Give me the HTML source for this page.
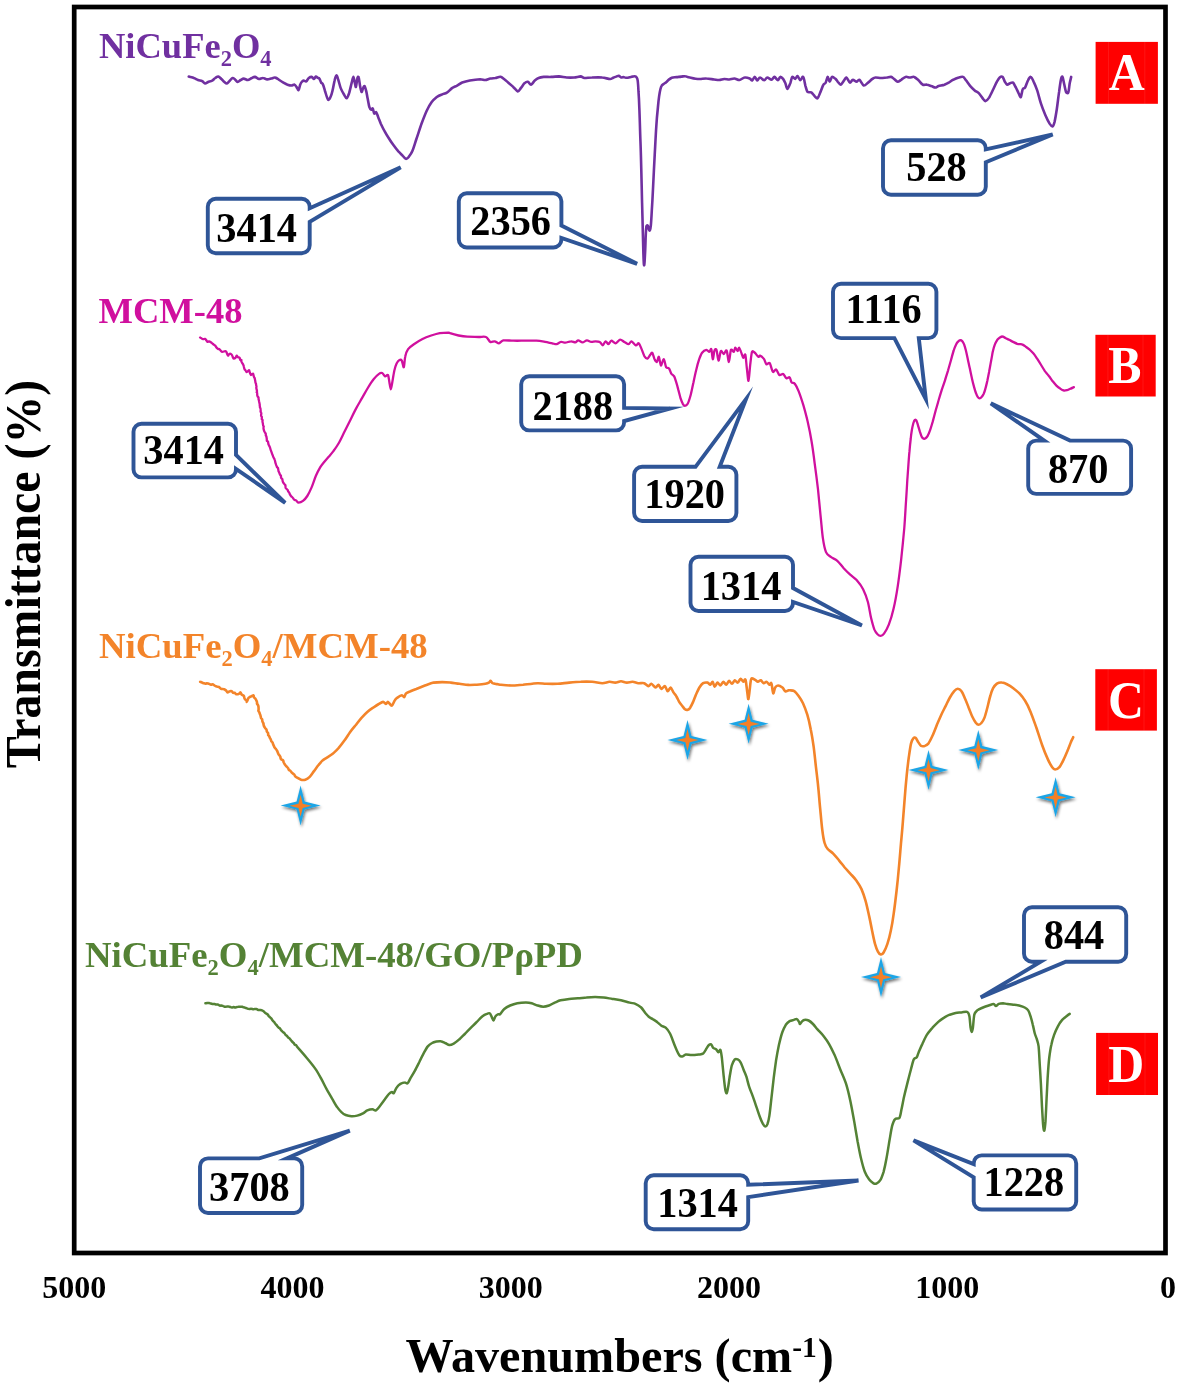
<!DOCTYPE html>
<html lang="en"><head><meta charset="utf-8"><title>FTIR spectra</title>
<style>html,body{margin:0;padding:0;background:#fff}body{width:1180px;height:1388px;overflow:hidden}svg{display:block}text{font-family:"Liberation Serif","DejaVu Serif",serif;font-weight:bold}</style>
</head><body>
<svg width="1180" height="1388" viewBox="0 0 1180 1388">
<defs><filter id="sh" x="-40%" y="-40%" width="180%" height="180%"><feGaussianBlur in="SourceAlpha" stdDeviation="1.7"/><feOffset dx="0.9" dy="1.5" result="b"/><feComponentTransfer><feFuncA type="linear" slope="0.55"/></feComponentTransfer><feMerge><feMergeNode/><feMergeNode in="SourceGraphic"/></feMerge></filter></defs>
<rect width="1180" height="1388" fill="#fff"/>
<rect x="74.2" y="7" width="1091.3" height="1246" fill="none" stroke="#000" stroke-width="4.7"/>
<g fill="none" stroke-linejoin="round" stroke-linecap="round">
<path stroke="#7030A0" stroke-width="2.6" d="M188.8,76.5C189.6,76.8 192.5,77.4 193.9,78.0C195.3,78.5 196.7,79.5 198.0,80.0C199.2,80.5 201.0,80.5 202.0,81.0C203.1,81.5 204.2,83.3 205.1,83.5C206.0,83.6 207.1,82.5 208.1,82.0C209.2,81.6 211.1,81.2 212.2,80.6C213.3,80.0 214.3,78.6 215.3,78.0C216.2,77.4 217.4,76.4 218.3,76.5C219.2,76.7 220.4,78.2 221.4,79.0C222.3,79.8 223.6,81.4 224.4,82.0C225.2,82.7 226.1,83.6 226.8,83.5C227.6,83.3 228.6,81.8 229.5,81.0C230.3,80.2 231.7,78.2 232.5,78.0C233.4,77.7 234.2,78.8 235.0,79.4C235.7,80.0 236.8,81.9 237.6,82.0C238.5,82.1 239.8,80.5 240.7,80.0C241.6,79.5 242.7,78.6 243.7,78.6C244.8,78.6 246.6,80.1 247.8,80.0C249.0,79.9 250.8,78.4 251.9,78.0C252.9,77.5 253.8,76.8 254.9,76.9C256.0,77.1 257.8,78.8 259.0,79.0C260.2,79.1 261.8,77.9 263.1,78.0C264.3,78.0 265.9,79.3 267.1,79.4C268.3,79.5 270.0,78.9 271.2,78.6C272.4,78.3 274.0,77.3 275.3,77.6C276.5,77.8 278.1,79.2 279.3,80.0C280.5,80.8 282.2,81.9 283.4,82.6C284.6,83.3 286.2,84.3 287.5,84.7C288.7,85.1 290.5,85.5 291.5,85.5C292.6,85.5 293.8,84.4 294.6,84.7C295.3,84.9 296.0,86.3 296.6,87.1C297.2,87.9 298.1,90.5 298.6,90.2C299.2,89.9 299.6,86.3 300.1,85.1C300.5,83.9 301.1,82.7 301.7,82.0C302.2,81.4 303.1,80.7 303.7,80.6C304.4,80.5 305.4,81.8 306.2,81.4C306.9,81.0 308.0,78.6 308.8,78.0C309.7,77.3 311.1,76.8 311.9,76.9C312.6,77.1 313.3,79.0 313.9,79.0C314.5,78.9 315.3,76.7 315.9,76.5C316.5,76.4 317.5,77.7 318.0,78.0C318.5,78.3 318.9,77.8 319.3,78.5C319.8,79.2 320.6,81.7 321.1,82.5C321.6,83.4 322.3,83.1 322.9,84.3C323.5,85.5 324.2,88.4 324.9,90.7C325.7,93.0 327.1,98.6 328.0,99.6C328.8,100.5 329.8,98.4 330.5,97.0C331.2,95.7 331.9,93.2 332.5,90.7C333.2,88.2 334.0,82.8 334.6,80.5C335.1,78.2 335.8,75.6 336.4,75.4C336.9,75.2 337.5,77.3 338.1,79.2C338.8,81.1 339.8,85.8 340.7,88.1C341.6,90.4 343.1,93.0 344.0,94.5C344.9,96.0 345.8,98.5 346.5,98.3C347.3,98.1 348.3,95.5 349.1,93.2C349.8,90.9 351.0,85.5 351.6,83.1C352.3,80.6 352.9,76.7 353.4,76.7C353.9,76.7 354.5,81.5 354.9,83.1C355.3,84.6 355.6,87.6 355.9,86.9C356.3,86.1 357.0,79.4 357.5,78.0C357.9,76.6 358.3,76.3 358.7,77.5C359.1,78.6 359.6,83.4 360.0,85.6C360.4,87.8 361.1,91.6 361.5,91.9C362.0,92.3 362.6,89.0 363.1,88.1C363.5,87.3 364.1,85.7 364.6,86.1C365.0,86.5 365.6,88.8 366.1,90.7C366.6,92.5 367.1,95.8 367.6,98.3C368.1,100.8 368.9,105.5 369.4,107.2C369.9,108.9 370.7,109.6 371.2,109.7C371.7,109.9 372.3,107.9 372.7,108.5C373.2,109.0 373.7,113.0 374.2,113.6C374.8,114.1 375.7,111.7 376.3,112.3C376.9,112.9 377.6,115.7 378.3,117.4C379.0,119.1 379.9,121.6 380.8,123.7C381.8,125.8 383.5,129.3 384.7,131.4C385.8,133.5 387.1,135.6 388.5,137.7C389.8,139.8 392.0,143.2 393.6,145.3C395.1,147.4 397.3,150.2 398.6,151.7C400.0,153.2 401.4,154.4 402.5,155.5C403.5,156.6 404.8,158.6 405.8,158.8C406.7,159.0 407.8,158.0 408.8,156.8C409.8,155.5 411.5,153.1 412.6,150.4C413.8,147.8 415.1,143.0 416.4,139.0C417.8,135.0 420.0,127.9 421.5,123.7C423.1,119.5 425.1,114.3 426.6,111.0C428.1,107.8 430.2,104.2 431.7,102.1C433.2,100.0 435.3,98.2 436.8,97.0C438.3,95.9 440.3,95.1 441.9,94.5C443.4,93.8 445.4,93.7 446.9,92.7C448.5,91.8 450.5,89.2 452.0,88.1C453.6,87.1 455.6,86.4 457.1,85.6C458.6,84.8 460.3,83.3 462.2,82.5C464.1,81.8 467.1,81.0 469.8,80.5C472.5,80.0 477.9,79.3 480.2,79.2C482.5,79.2 483.7,80.1 485.3,80.0C486.8,79.9 488.8,78.8 490.3,78.5C491.9,78.2 493.9,78.2 495.4,78.0C496.9,77.7 499.2,76.5 500.5,76.7C501.8,76.9 503.2,78.4 504.3,79.2C505.5,80.1 506.8,81.4 508.1,82.5C509.5,83.7 511.8,85.5 513.2,86.9C514.7,88.2 516.7,91.2 517.8,91.4C518.9,91.6 519.8,89.4 520.8,88.1C521.9,86.9 523.6,84.0 524.7,83.1C525.7,82.1 527.0,81.5 528.0,81.8C528.9,82.0 530.0,85.0 531.0,84.8C532.0,84.6 533.7,81.5 534.8,80.5C536.0,79.5 537.3,78.5 538.6,78.0C540.0,77.4 541.8,77.1 543.7,76.9C545.6,76.8 549.1,77.0 551.4,76.9C553.6,76.9 556.7,76.4 559.0,76.4C561.3,76.5 564.3,77.3 566.6,77.5C568.9,77.6 572.1,77.6 574.2,77.5C576.3,77.3 579.1,76.4 580.6,76.4C582.1,76.5 582.7,77.8 584.4,78.0C586.1,78.1 589.4,77.5 592.0,77.5C594.7,77.4 599.5,77.2 602.2,77.5C604.9,77.7 608.4,79.0 610.0,79.0C611.6,79.1 612.2,78.1 613.2,77.7C614.1,77.4 615.5,76.9 616.3,76.6C617.2,76.4 618.0,75.7 618.7,75.8C619.4,76.0 620.4,77.2 621.1,77.4C621.8,77.6 622.8,77.1 623.5,77.1C624.2,77.2 625.0,77.7 625.8,77.7C626.7,77.8 628.1,77.6 629.0,77.4C630.0,77.3 631.3,76.8 632.2,76.6C633.1,76.5 634.4,76.2 635.0,76.3C635.7,76.4 636.2,76.8 636.6,77.4C637.0,78.1 637.4,78.5 637.7,80.6C638.0,82.7 638.3,87.6 638.5,91.7C638.8,95.7 639.1,101.6 639.3,107.5C639.6,113.5 639.9,124.2 640.1,131.3C640.3,138.4 640.7,146.8 640.9,155.1C641.1,163.4 641.5,177.3 641.7,186.8C641.9,196.3 642.2,208.9 642.5,218.5C642.7,228.0 643.1,243.2 643.3,250.1C643.5,257.0 643.7,262.5 643.9,264.4C644.1,266.3 644.4,265.0 644.5,262.8C644.7,260.7 645.0,254.4 645.2,250.1C645.4,245.9 645.6,237.9 645.8,234.3C646.0,230.7 646.2,227.7 646.4,226.4C646.7,225.1 647.3,225.1 647.7,225.6C648.1,226.1 648.6,228.8 649.0,229.5C649.3,230.3 649.6,231.0 649.9,230.3C650.2,229.6 650.6,227.8 650.9,224.8C651.2,221.8 651.5,216.2 651.8,210.5C652.2,204.8 652.7,195.1 653.1,186.8C653.5,178.4 654.2,164.1 654.7,155.1C655.2,146.0 655.8,133.7 656.3,126.5C656.7,119.4 657.4,112.1 657.9,107.5C658.3,103.0 658.7,99.2 659.1,96.4C659.5,93.7 660.0,90.9 660.4,89.3C660.8,87.7 661.1,86.5 661.7,85.7C662.2,84.8 663.2,84.3 663.9,83.8C664.6,83.2 665.5,82.8 666.2,82.2C667.0,81.6 667.8,80.5 668.6,79.8C669.5,79.1 670.6,78.2 671.8,77.7C673.0,77.3 675.1,77.3 676.5,77.1C678.0,76.9 680.0,76.8 681.3,76.6C682.6,76.5 684.3,76.1 685.3,76.2C686.2,76.2 686.8,76.9 687.6,77.1C688.5,77.4 689.6,77.5 690.8,77.7C692.0,78.0 694.2,78.5 695.6,78.7C696.9,78.9 698.4,79.0 700.0,79.0C701.6,79.0 704.3,78.4 706.4,78.5C708.6,78.5 712.2,79.3 714.1,79.5C716.0,79.7 717.6,80.1 719.2,80.0C720.7,79.9 722.7,79.1 724.2,79.0C725.8,78.9 727.8,79.6 729.3,79.5C730.8,79.4 732.9,78.4 734.4,78.5C735.9,78.6 738.0,80.2 739.5,80.0C741.0,79.8 743.1,77.7 744.6,77.5C746.1,77.2 748.5,78.0 749.7,78.5C750.8,78.9 751.4,80.8 752.2,80.5C753.0,80.2 754.0,76.7 754.7,76.7C755.5,76.7 756.5,80.4 757.3,80.5C758.1,80.6 758.9,77.5 760.0,77.5C761.1,77.4 763.2,80.3 764.3,80.3C765.4,80.3 766.1,77.5 767.2,77.5C768.3,77.4 770.4,79.8 771.5,79.8C772.6,79.7 773.5,76.8 774.4,76.9C775.4,77.0 777.0,80.3 777.9,80.3C778.7,80.3 779.4,77.1 780.2,76.9C780.9,76.7 782.3,77.9 783.1,78.9C783.8,79.8 784.7,81.7 785.4,83.2C786.0,84.7 786.6,89.0 787.4,89.0C788.1,89.0 789.5,85.0 790.3,83.2C791.0,81.4 791.5,77.5 792.3,76.9C793.0,76.2 794.4,79.0 795.2,78.9C795.9,78.8 796.7,75.8 797.5,76.0C798.2,76.2 799.5,80.2 800.3,80.3C801.2,80.5 802.4,76.0 803.2,76.9C804.0,77.7 804.9,83.9 805.5,86.1C806.2,88.3 806.7,90.9 807.5,91.9C808.4,92.8 810.2,91.8 811.3,92.4C812.4,93.1 813.8,95.3 814.7,96.2C815.7,97.1 816.8,98.9 817.6,98.2C818.5,97.6 819.6,93.9 820.5,91.9C821.4,89.8 822.6,86.0 823.4,84.7C824.2,83.3 825.0,83.8 825.7,82.6C826.3,81.5 827.1,77.0 827.7,76.9C828.3,76.8 829.1,81.8 829.7,81.8C830.4,81.8 831.2,77.3 832.0,76.9C832.9,76.4 834.6,78.2 835.5,78.9C836.4,79.6 837.0,80.9 837.8,81.8C838.6,82.6 839.7,84.9 840.7,84.7C841.6,84.4 843.3,81.4 844.1,80.3C845.0,79.3 845.6,77.1 846.4,77.5C847.3,77.8 848.9,82.3 849.9,82.6C850.8,83.0 851.8,79.9 852.8,79.8C853.8,79.6 855.5,81.8 856.5,81.8C857.5,81.8 858.3,79.2 859.4,79.8C860.5,80.3 862.4,85.1 863.7,85.5C865.0,86.0 866.8,83.6 868.1,82.6C869.3,81.6 871.3,79.7 872.4,78.9C873.5,78.1 874.0,77.6 875.3,77.5C876.6,77.3 879.3,78.0 881.0,78.0C882.7,78.0 885.3,77.6 886.8,77.5C888.3,77.3 890.0,76.7 891.1,76.9C892.2,77.1 893.0,78.2 894.0,78.9C895.0,79.6 896.6,81.6 897.7,81.8C898.8,81.9 900.0,80.5 901.2,79.8C902.4,79.0 904.2,77.2 905.5,76.9C906.8,76.5 908.5,77.5 909.8,77.5C911.1,77.5 912.9,76.4 914.2,76.9C915.4,77.3 917.2,79.2 918.5,80.3C919.8,81.5 921.5,84.0 922.8,84.7C924.1,85.3 925.8,84.4 927.1,84.7C928.4,84.9 930.2,85.7 931.4,86.1C932.7,86.5 934.1,87.5 935.2,87.5C936.3,87.5 937.3,86.5 938.6,86.1C940.0,85.7 942.9,85.2 944.4,84.7C945.9,84.1 947.4,83.4 948.7,82.6C950.0,81.9 951.5,80.5 953.1,79.8C954.6,79.0 957.3,77.9 958.8,77.5C960.3,77.0 962.1,76.4 963.1,76.9C964.2,77.3 964.9,79.0 966.0,80.3C967.1,81.7 969.0,84.6 970.3,86.1C971.6,87.6 973.4,89.3 974.7,90.4C976.0,91.5 977.7,92.0 979.0,93.3C980.3,94.6 982.3,97.9 983.3,99.1C984.3,100.2 984.7,101.3 985.6,101.1C986.5,100.9 987.9,99.4 989.1,97.6C990.2,95.8 992.2,91.4 993.4,89.0C994.6,86.6 995.9,83.5 996.8,81.8C997.8,80.1 998.9,78.2 999.7,77.5C1000.6,76.7 1001.8,76.2 1002.6,76.9C1003.4,77.5 1004.2,80.6 1004.9,81.8C1005.6,82.9 1006.4,84.4 1007.2,84.7C1008.0,84.9 1009.2,83.5 1010.1,83.2C1011.0,82.9 1012.1,82.0 1013.0,82.6C1013.8,83.3 1015.0,85.9 1015.9,87.5C1016.7,89.1 1018.0,91.9 1018.7,93.3C1019.5,94.7 1020.2,97.7 1020.8,97.1C1021.4,96.4 1022.1,90.4 1022.8,89.0C1023.4,87.6 1024.3,88.8 1025.1,87.5C1025.9,86.2 1027.1,81.9 1028.0,80.3C1028.8,78.7 1030.0,76.7 1030.8,76.9C1031.7,77.1 1032.8,79.7 1033.7,81.8C1034.7,83.8 1036.1,87.2 1037.2,90.4C1038.3,93.7 1039.7,99.7 1040.9,103.4C1042.1,107.1 1044.0,111.9 1045.3,114.9C1046.6,117.9 1048.5,121.8 1049.6,123.6C1050.7,125.3 1051.7,126.7 1052.5,126.4C1053.2,126.2 1053.8,124.7 1054.5,122.1C1055.1,119.5 1056.1,113.7 1056.8,109.2C1057.5,104.6 1058.4,96.4 1059.1,91.9C1059.7,87.3 1060.6,81.1 1061.1,78.9C1061.6,76.7 1062.1,76.2 1062.5,76.9C1063.0,77.5 1063.5,81.0 1064.0,83.2C1064.5,85.5 1065.4,90.5 1066.0,91.9C1066.6,93.2 1067.7,93.7 1068.3,92.4C1068.9,91.1 1069.3,85.6 1069.7,83.2C1070.2,80.9 1071.0,77.8 1071.2,76.9"/>
<path stroke="#D0109E" stroke-width="2.3" d="M200.1,337.5C200.3,337.7 201.0,338.1 201.5,338.3C201.9,338.6 202.6,339.1 203.2,339.2C203.7,339.3 204.5,338.7 205.0,338.9C205.5,339.1 206.1,340.0 206.4,340.4C206.8,340.8 207.0,341.6 207.4,341.8C207.8,341.9 208.5,341.3 209.1,341.4C209.7,341.5 210.7,342.2 211.2,342.5C211.7,342.8 211.8,343.0 212.2,343.3C212.6,343.6 213.5,344.4 213.9,344.7C214.4,345.0 214.8,345.1 215.2,345.6C215.6,346.0 216.1,347.1 216.5,347.6C217.0,348.1 217.7,348.8 218.1,349.0C218.5,349.2 219.0,348.8 219.4,349.1C219.8,349.4 220.4,350.5 220.9,350.9C221.3,351.4 221.6,351.9 222.3,351.9C222.9,352.0 224.6,351.1 225.2,351.1C225.8,351.1 226.0,351.4 226.3,351.8C226.6,352.3 227.1,353.7 227.3,354.3C227.6,354.9 227.8,355.7 228.1,355.7C228.3,355.6 228.9,354.2 229.3,354.0C229.7,353.7 230.5,353.7 230.9,354.0C231.4,354.2 231.9,354.9 232.2,355.5C232.5,356.0 232.8,357.3 233.1,357.7C233.3,358.2 233.5,358.6 233.8,358.6C234.2,358.6 235.0,358.3 235.4,357.9C235.9,357.5 236.3,355.8 236.7,355.7C237.1,355.6 237.6,356.9 238.0,357.2C238.5,357.5 239.2,357.3 239.6,357.7C239.9,358.1 240.0,359.6 240.2,359.9C240.5,360.3 241.2,359.6 241.4,359.9C241.5,360.1 241.2,361.0 241.4,361.5C241.6,362.1 242.1,362.9 242.5,363.5C242.8,364.0 243.3,364.8 243.5,365.3C243.8,365.8 243.8,366.4 243.9,367.0C244.1,367.6 244.2,368.7 244.5,369.2C244.7,369.8 245.3,370.0 245.6,370.5C246.0,370.9 246.3,372.2 246.8,372.1C247.3,372.1 248.7,370.1 249.1,370.1C249.5,370.1 249.4,371.3 249.6,371.9C249.8,372.5 250.3,373.6 250.5,374.1C250.7,374.6 250.7,375.1 251.1,375.0C251.5,374.9 252.7,373.4 253.1,373.6C253.5,373.7 253.6,375.4 253.7,376.1C253.9,376.7 254.2,377.6 254.4,377.9C254.5,378.2 254.5,377.6 254.7,378.1C254.8,378.7 255.2,380.7 255.3,381.3C255.4,381.9 255.3,381.8 255.4,382.2C255.5,382.6 255.9,383.5 256.0,383.9C256.1,384.3 256.1,384.4 256.1,384.9C256.2,385.4 256.5,386.7 256.5,387.1C256.5,387.6 256.2,387.2 256.3,387.8C256.3,388.4 257.0,390.4 257.0,391.1C257.1,391.8 256.6,392.1 256.6,392.3C256.6,392.6 257.0,392.3 257.1,392.8C257.2,393.3 257.2,394.9 257.3,395.5C257.4,396.1 257.6,396.3 257.7,396.6C257.9,396.9 258.3,397.1 258.5,397.5C258.6,397.9 258.5,398.7 258.6,399.2C258.7,399.8 259.0,400.7 259.1,401.5C259.3,402.3 259.6,403.8 259.7,404.4C259.8,405.0 259.7,404.7 259.7,405.3C259.8,405.8 260.0,407.4 260.0,407.8C260.1,408.2 260.1,407.6 260.2,407.8C260.2,408.0 260.6,408.8 260.7,409.4C260.8,409.9 260.5,411.1 260.6,411.7C260.7,412.2 261.2,412.2 261.3,412.9C261.4,413.5 261.0,415.2 261.1,415.8C261.1,416.4 261.6,416.3 261.8,416.8C261.9,417.3 261.7,418.8 261.8,419.3C262.0,419.7 262.5,419.5 262.6,419.9C262.7,420.2 262.4,421.2 262.5,421.8C262.5,422.3 262.8,423.0 262.9,423.5C263.0,424.1 262.9,424.8 263.1,425.2C263.2,425.7 263.6,426.2 263.6,426.7C263.7,427.1 263.4,427.7 263.5,428.3C263.5,428.9 263.9,430.0 264.0,430.5C264.1,431.0 264.2,431.1 264.4,431.5C264.7,432.0 265.4,433.2 265.7,433.7C265.9,434.3 265.7,435.1 265.8,435.5C265.9,435.9 266.2,435.8 266.4,436.4C266.5,436.9 266.7,438.4 266.8,439.1C266.8,439.8 266.7,440.5 266.9,440.9C267.1,441.3 267.8,441.1 268.0,441.6C268.2,442.1 268.2,443.5 268.4,444.2C268.6,444.8 269.0,445.4 269.2,445.9C269.5,446.4 269.8,446.9 270.0,447.5C270.2,448.1 270.5,449.4 270.7,450.0C270.9,450.6 271.1,451.0 271.3,451.4C271.4,451.7 271.3,451.7 271.6,452.4C271.8,453.0 272.6,455.1 272.9,455.8C273.1,456.4 273.0,456.3 273.2,456.7C273.4,457.1 273.9,458.1 274.2,458.6C274.4,459.1 274.7,459.5 274.8,460.0C275.0,460.4 275.0,461.1 275.2,461.7C275.3,462.3 275.6,463.4 275.8,463.9C275.9,464.5 276.1,464.8 276.3,465.3C276.5,465.7 276.8,466.8 277.0,467.2C277.3,467.6 277.8,467.5 278.0,468.2C278.2,468.8 278.4,470.6 278.5,471.2C278.7,471.8 278.8,471.6 279.0,472.1C279.2,472.6 279.6,473.9 279.9,474.4C280.2,475.0 280.7,475.2 280.9,475.7C281.1,476.3 280.9,477.4 281.1,477.9C281.3,478.4 282.0,478.5 282.3,479.1C282.5,479.7 282.6,481.1 282.8,481.6C283.0,482.2 283.1,482.3 283.4,482.8C283.7,483.2 284.3,484.0 284.6,484.4C284.9,484.8 285.2,484.8 285.4,485.3C285.5,485.8 285.5,487.1 285.6,487.6C285.8,488.2 286.2,488.4 286.5,488.8C286.9,489.2 287.5,489.8 287.8,490.2C288.0,490.5 287.8,490.7 288.0,491.0C288.2,491.4 288.9,492.0 289.2,492.6C289.5,493.1 289.7,494.0 290.0,494.6C290.3,495.2 291.1,496.2 291.4,496.5C291.6,496.8 291.6,496.4 291.9,496.8C292.2,497.1 293.2,498.3 293.5,498.7C293.9,499.2 293.9,499.5 294.3,499.8C294.7,500.0 295.7,500.2 296.0,500.4C296.4,500.7 296.5,501.0 296.9,501.3C297.3,501.6 297.7,502.7 298.6,502.6C299.6,502.6 301.7,501.9 303.0,500.9C304.3,499.9 306.0,498.0 307.3,496.0C308.6,494.0 310.3,490.4 311.6,487.4C312.9,484.3 314.6,478.9 315.9,475.8C317.2,472.8 319.0,469.4 320.3,467.2C321.6,465.0 323.3,463.0 324.6,461.4C325.9,459.8 327.6,458.1 328.9,456.5C330.2,455.0 331.7,453.4 333.2,451.4C334.7,449.3 337.3,445.7 339.0,442.7C340.7,439.7 343.0,434.6 344.7,431.2C346.5,427.7 348.8,423.1 350.5,419.7C352.2,416.2 354.5,411.4 356.3,408.1C358.0,404.9 360.3,401.1 362.0,398.1C363.8,395.0 366.1,390.8 367.8,388.0C369.5,385.2 371.8,381.5 373.6,379.3C375.3,377.2 378.0,374.5 379.3,373.6C380.6,372.6 381.3,372.6 382.2,373.0C383.1,373.4 384.2,376.1 385.1,376.4C385.9,376.7 387.3,374.1 388.0,375.0C388.6,375.9 389.0,380.0 389.4,382.2C389.8,384.4 390.4,389.4 390.8,389.4C391.3,389.4 391.8,385.0 392.3,382.2C392.8,379.4 393.7,373.5 394.3,370.7C395.0,367.9 395.8,365.1 396.6,363.5C397.4,361.9 398.7,360.4 399.5,360.0C400.3,359.6 401.1,359.5 401.8,360.6C402.4,361.7 403.3,367.9 403.8,367.2C404.3,366.6 404.6,359.0 405.3,356.3C405.9,353.5 406.8,350.9 408.1,349.1C409.4,347.3 411.7,345.7 413.9,344.2C416.1,342.7 419.9,340.3 422.5,339.0C425.1,337.7 428.6,336.4 431.2,335.5C433.8,334.7 437.2,333.7 439.8,333.2C442.4,332.8 446.9,332.6 448.5,332.6C450.0,332.6 448.5,332.8 450.0,333.2C451.5,333.7 456.1,335.0 458.6,335.5C461.2,336.0 464.3,336.5 467.3,336.7C470.3,336.9 476.0,336.9 478.8,337.0C481.6,337.0 484.3,336.2 486.0,337.0C487.7,337.7 489.0,341.2 490.3,341.9C491.6,342.5 493.4,341.1 494.7,341.3C496.0,341.5 497.7,343.4 499.0,343.3C500.3,343.2 501.1,340.8 503.3,340.4C505.5,340.0 510.1,340.7 513.4,340.7C516.6,340.8 521.5,340.7 524.9,340.7C528.4,340.7 533.4,340.5 536.4,340.7C539.5,340.9 542.7,341.5 545.1,341.9C547.5,342.3 550.6,343.0 552.3,343.3C554.0,343.7 555.3,344.4 556.6,344.2C557.9,344.0 559.6,342.1 560.9,341.9C562.2,341.6 563.7,342.8 565.3,342.7C566.8,342.6 569.5,341.3 571.0,341.3C572.5,341.2 574.3,342.6 575.3,342.4C576.4,342.3 577.1,340.4 578.2,340.4C579.3,340.4 581.2,342.4 582.5,342.4C583.8,342.4 585.6,340.5 586.9,340.4C588.2,340.3 589.9,341.7 591.2,341.9C592.5,342.0 594.2,341.3 595.5,341.3C596.8,341.3 598.8,341.3 599.8,341.9C600.9,342.5 601.8,345.4 602.7,345.3C603.6,345.2 604.7,341.5 605.6,341.3C606.5,341.1 607.6,344.3 608.5,344.2C609.3,344.1 610.3,340.8 611.4,340.7C612.4,340.6 614.4,343.5 615.7,343.3C617.0,343.1 618.7,339.8 620.0,339.6C621.3,339.3 623.0,341.2 624.3,341.9C625.6,342.6 627.6,344.3 628.6,344.2C629.7,344.1 630.4,341.1 631.5,341.3C632.6,341.5 634.8,345.0 635.8,345.3C636.9,345.6 637.9,342.7 638.7,343.3C639.6,343.9 640.7,347.1 641.6,349.1C642.5,351.0 643.6,354.8 644.5,356.3C645.4,357.7 646.5,358.8 647.4,358.6C648.2,358.4 649.5,355.7 650.3,354.8C651.0,354.0 651.6,352.2 652.3,352.8C652.9,353.5 653.9,357.8 654.6,359.2C655.3,360.5 656.2,362.4 656.9,362.0C657.5,361.7 658.3,356.3 658.9,356.8C659.5,357.4 660.2,365.1 660.9,365.5C661.6,365.8 663.0,358.9 663.8,359.2C664.6,359.4 665.3,365.8 666.1,367.2C666.9,368.6 668.2,367.4 669.0,368.4C669.8,369.3 670.5,372.3 671.3,373.6C672.1,374.8 673.4,375.1 674.2,376.4C674.9,377.7 675.6,380.3 676.2,382.2C676.8,384.1 677.6,387.0 678.2,389.4C678.9,391.8 679.8,395.9 680.5,398.1C681.2,400.2 682.2,402.6 682.8,403.8C683.5,405.0 684.1,405.8 684.8,405.8C685.6,405.8 686.8,405.4 687.7,403.8C688.6,402.2 689.7,398.4 690.6,395.2C691.5,391.9 692.6,386.1 693.5,382.2C694.3,378.3 695.5,372.7 696.4,369.2C697.2,365.8 698.4,361.6 699.2,359.2C700.1,356.7 701.0,354.2 702.1,352.8C703.2,351.4 705.4,350.1 706.4,349.9C707.5,349.8 708.6,352.1 709.3,351.9C710.1,351.8 710.8,348.0 711.3,349.1C711.9,350.1 712.3,358.9 712.8,359.2C713.3,359.4 713.9,351.9 714.5,350.5C715.1,349.1 715.9,348.4 716.5,349.9C717.1,351.4 717.9,360.4 718.5,360.6C719.2,360.8 720.1,352.1 720.8,351.1C721.6,350.1 722.9,354.1 723.7,354.0C724.6,353.9 725.8,349.3 726.6,350.5C727.4,351.7 728.3,362.1 728.9,362.0C729.6,361.9 730.2,351.4 730.9,349.9C731.7,348.4 733.2,352.3 733.8,351.9C734.5,351.6 734.7,347.8 735.3,347.6C735.8,347.5 737.0,351.1 737.6,351.1C738.1,351.1 738.5,347.5 739.0,347.6C739.5,347.8 740.4,350.4 741.0,351.9C741.7,353.5 742.7,357.3 743.3,357.7C744.0,358.1 744.8,353.3 745.3,354.8C745.9,356.3 746.3,363.9 746.8,367.8C747.3,371.7 748.0,381.2 748.5,380.8C749.0,380.3 749.7,369.2 750.2,364.9C750.8,360.6 751.3,353.8 752.0,351.9C752.7,350.1 753.9,352.1 754.8,352.8C755.8,353.5 757.5,356.4 758.3,356.8C759.1,357.3 759.2,355.4 760.0,355.7C760.8,356.0 762.9,357.6 763.9,358.9C764.8,360.2 765.6,363.7 766.4,364.4C767.3,365.0 768.7,362.0 769.7,363.1C770.6,364.2 771.9,370.8 772.9,371.8C773.8,372.7 775.1,369.0 776.1,369.5C777.1,370.0 778.3,374.3 779.3,375.0C780.4,375.7 782.1,373.6 783.2,374.0C784.2,374.5 785.4,377.7 786.4,378.2C787.4,378.7 788.9,376.6 789.6,377.3C790.4,377.9 790.8,381.4 791.6,382.4C792.3,383.4 793.7,382.4 794.8,383.7C795.8,385.0 797.3,387.8 798.6,391.1C799.9,394.4 802.1,401.0 803.5,405.6C804.8,410.2 806.5,416.4 807.7,421.7C808.9,427.0 810.5,434.7 811.5,441.0C812.6,447.3 813.8,456.3 814.7,463.6C815.7,470.8 817.1,481.6 818.0,489.3C818.8,497.1 819.8,507.8 820.5,515.1C821.3,522.3 822.0,532.1 822.8,537.6C823.6,543.2 824.8,549.2 826.0,552.1C827.2,555.0 829.2,555.6 830.8,556.9C832.5,558.3 835.4,559.1 837.3,560.8C839.2,562.5 841.8,566.1 843.7,568.2C845.7,570.3 848.2,572.9 850.2,574.7C852.1,576.4 854.7,578.0 856.6,580.1C858.5,582.3 861.4,585.9 863.1,589.2C864.7,592.4 866.7,597.7 867.9,602.0C869.1,606.4 870.1,614.0 871.1,618.1C872.1,622.2 873.4,627.0 874.3,629.4C875.3,631.8 876.6,633.3 877.5,634.2C878.5,635.2 879.8,635.9 880.8,635.8C881.7,635.8 882.8,635.3 884.0,633.6C885.2,631.9 887.4,628.3 888.8,624.6C890.3,620.8 892.3,614.3 893.6,608.5C895.0,602.7 896.7,593.2 897.8,585.9C898.9,578.7 900.1,568.9 901.1,560.2C902.0,551.5 903.5,537.0 904.3,528.0C905.0,518.9 905.6,507.2 906.1,500.0C906.6,492.8 907.0,485.4 907.3,480.2C907.7,474.9 908.1,469.3 908.4,464.9C908.7,460.6 909.1,455.1 909.5,451.2C909.8,447.3 910.3,442.2 910.7,439.0C911.0,435.8 911.5,432.2 911.9,429.8C912.3,427.4 913.0,424.5 913.4,423.0C913.9,421.5 914.5,420.3 914.9,419.9C915.4,419.6 916.0,419.9 916.5,420.7C916.9,421.5 917.5,423.7 918.0,425.3C918.5,426.9 919.3,429.6 919.8,431.4C920.4,433.1 921.1,435.6 921.7,436.7C922.2,437.8 923.0,438.4 923.6,438.7C924.2,438.9 925.0,438.7 925.6,438.2C926.2,437.8 927.1,436.9 927.8,435.6C928.4,434.4 929.4,432.0 930.2,429.8C931.0,427.7 931.9,424.4 932.8,421.4C933.6,418.5 934.9,413.3 935.8,410.0C936.8,406.7 938.0,402.4 938.9,399.3C939.8,396.2 941.0,392.3 941.9,389.4C942.9,386.5 944.1,383.1 945.0,380.3C945.9,377.4 947.1,373.4 948.1,370.3C949.0,367.2 950.3,362.6 951.1,359.7C951.9,356.7 952.9,352.8 953.7,350.5C954.4,348.2 955.4,345.8 956.1,344.4C956.8,343.0 957.7,342.0 958.3,341.4C958.9,340.7 959.7,340.2 960.3,340.1C960.8,340.1 961.7,340.4 962.2,341.1C962.8,341.7 963.5,343.0 964.1,344.4C964.6,345.8 965.3,348.2 965.9,350.5C966.5,352.8 967.3,356.9 967.9,359.7C968.5,362.4 969.2,366.0 969.9,368.8C970.5,371.7 971.4,376.0 972.0,378.7C972.6,381.5 973.5,384.9 974.1,387.1C974.7,389.3 975.4,391.7 976.0,393.2C976.5,394.7 977.2,396.3 977.8,397.0C978.3,397.8 979.1,398.3 979.6,398.3C980.2,398.3 981.0,397.7 981.6,397.0C982.2,396.4 983.0,395.2 983.6,394.0C984.2,392.7 984.9,390.6 985.4,388.6C986.0,386.7 986.7,383.5 987.3,381.0C987.8,378.5 988.5,374.7 989.1,371.9C989.6,369.0 990.4,364.9 990.9,361.9C991.5,359.0 992.2,354.7 992.7,352.0C993.3,349.4 994.2,346.2 994.9,344.4C995.6,342.6 996.6,340.9 997.3,339.8C998.1,338.8 999.1,338.0 999.9,337.5C1000.7,337.0 1001.7,336.4 1002.5,336.5C1003.3,336.5 1004.3,337.5 1005.3,338.0C1006.2,338.5 1007.8,339.2 1009.1,339.8C1010.3,340.4 1012.3,341.5 1013.6,342.1C1015.0,342.8 1017.0,343.8 1018.2,344.1C1019.5,344.4 1020.9,344.0 1022.0,344.4C1023.2,344.8 1024.7,345.9 1025.8,346.7C1027.0,347.5 1028.5,348.7 1029.7,349.7C1030.8,350.8 1032.3,352.2 1033.5,353.6C1034.6,354.9 1036.1,357.2 1037.3,358.9C1038.4,360.6 1040.0,363.2 1041.1,365.0C1042.2,366.8 1043.8,369.5 1044.9,371.1C1046.1,372.7 1047.6,374.2 1048.7,375.7C1049.9,377.2 1051.4,379.5 1052.5,381.0C1053.7,382.5 1055.2,384.4 1056.4,385.6C1057.5,386.7 1059.0,387.9 1060.2,388.6C1061.3,389.4 1062.8,390.3 1064.0,390.5C1065.1,390.7 1066.8,390.1 1067.8,389.9C1068.8,389.6 1069.9,389.1 1070.8,388.6C1071.8,388.2 1073.4,387.3 1073.9,387.1"/>
<path stroke="#F3842A" stroke-width="2.6" d="M200.2,681.8C200.4,681.9 201.4,682.3 202.0,682.6C202.6,682.8 203.3,683.1 203.9,683.3C204.4,683.5 205.1,683.7 205.5,683.7C206.0,683.7 206.2,683.3 206.7,683.3C207.2,683.4 208.2,683.6 208.8,683.8C209.4,684.0 210.3,684.5 210.9,684.6C211.5,684.7 212.1,684.3 212.6,684.3C213.1,684.4 213.5,684.8 214.0,685.1C214.5,685.4 215.2,686.0 215.8,686.2C216.3,686.5 217.0,686.6 217.5,686.7C217.9,686.8 218.4,686.7 219.0,687.0C219.5,687.3 220.5,688.6 221.1,688.9C221.8,689.2 222.7,688.9 223.2,689.0C223.8,689.1 224.4,689.3 224.9,689.6C225.3,689.9 225.9,690.3 226.3,690.7C226.7,691.1 227.0,692.4 227.5,692.4C228.1,692.5 229.1,691.4 229.8,691.3C230.4,691.1 231.4,691.1 231.9,691.3C232.3,691.5 232.5,692.6 232.9,692.8C233.3,693.1 234.0,692.6 234.5,692.8C235.0,693.0 235.6,694.0 236.2,694.2C236.8,694.3 238.1,694.2 238.7,693.9C239.4,693.6 240.1,692.4 240.5,692.4C240.9,692.5 241.1,694.0 241.5,694.4C241.8,694.8 242.5,695.0 242.8,695.2C243.2,695.5 243.7,695.7 244.0,696.2C244.2,696.7 244.2,697.8 244.5,698.3C244.7,698.9 245.3,699.5 245.6,699.8C245.9,700.1 246.2,699.9 246.4,700.2C246.6,700.5 246.7,702.0 246.8,701.9C247.0,701.9 247.5,700.4 247.7,699.8C247.9,699.2 248.2,698.4 248.5,698.0C248.8,697.6 249.3,697.3 249.7,697.1C250.2,696.8 250.9,696.6 251.4,696.4C252.0,696.1 253.1,695.2 253.5,695.3C253.9,695.5 253.8,696.9 254.0,697.3C254.3,697.8 254.9,698.0 255.3,698.5C255.6,699.0 256.1,700.0 256.4,700.5C256.6,701.1 256.9,701.6 257.0,702.1C257.1,702.6 256.9,703.4 257.0,703.8C257.1,704.2 257.6,704.4 257.8,704.7C258.0,705.1 258.3,705.6 258.4,706.3C258.5,707.0 258.6,708.6 258.6,709.3C258.6,710.0 258.3,710.4 258.4,710.8C258.5,711.3 259.0,711.6 259.2,712.0C259.4,712.5 259.7,713.5 259.9,714.0C260.0,714.4 260.1,714.3 260.3,714.9C260.5,715.5 260.9,717.5 261.1,718.2C261.4,718.8 261.9,718.7 262.1,719.2C262.3,719.7 262.2,720.8 262.4,721.4C262.6,722.1 263.3,723.1 263.5,723.5C263.6,724.0 263.4,724.0 263.5,724.4C263.6,724.8 263.9,725.9 264.1,726.4C264.4,727.0 265.0,727.9 265.3,728.3C265.7,728.8 266.2,728.9 266.4,729.3C266.7,729.8 266.6,730.8 266.8,731.4C267.1,732.0 267.9,732.7 268.1,733.3C268.3,733.8 268.1,734.7 268.2,735.1C268.4,735.5 268.7,735.3 269.0,735.8C269.3,736.3 269.9,737.9 270.1,738.4C270.4,738.9 270.6,738.9 270.8,739.4C270.9,739.9 271.1,741.1 271.4,741.5C271.6,741.9 272.0,741.7 272.2,742.0C272.5,742.2 272.6,742.8 272.8,743.2C272.9,743.6 273.0,744.0 273.3,744.6C273.6,745.2 274.2,746.9 274.5,747.4C274.8,747.9 274.9,747.8 275.1,748.1C275.3,748.3 275.4,748.3 275.7,748.8C276.0,749.2 276.9,750.5 277.2,751.0C277.5,751.5 277.4,751.5 277.6,752.0C277.8,752.5 278.3,753.8 278.6,754.3C278.9,754.8 279.2,754.9 279.4,755.3C279.6,755.6 280.0,756.0 280.2,756.6C280.4,757.1 280.6,758.4 280.8,758.8C281.0,759.3 281.3,759.3 281.6,759.6C282.0,759.8 282.8,760.0 283.1,760.4C283.5,760.9 283.4,761.8 283.7,762.5C284.0,763.1 284.7,764.1 285.0,764.6C285.3,765.1 285.7,765.5 286.0,765.8C286.2,766.1 286.3,766.3 286.7,766.7C287.0,767.0 287.7,767.7 288.1,768.2C288.4,768.7 288.6,769.6 288.9,770.0C289.2,770.4 289.6,770.2 290.0,770.6C290.5,771.0 291.3,772.1 291.7,772.5C292.0,772.8 292.0,772.8 292.4,773.1C292.7,773.4 293.8,774.0 294.2,774.5C294.6,775.0 294.9,775.9 295.2,776.4C295.6,776.8 295.8,776.9 296.7,777.4C297.6,777.9 299.7,779.4 301.0,779.7C302.3,780.1 304.0,780.2 305.3,779.7C306.6,779.3 308.4,778.2 309.7,776.9C311.0,775.6 312.7,772.8 314.0,771.1C315.3,769.4 317.0,766.9 318.3,765.3C319.6,763.7 321.3,761.6 322.6,760.4C323.9,759.3 325.4,758.6 326.9,757.6C328.5,756.6 331.0,755.2 332.7,753.8C334.4,752.4 336.7,750.0 338.5,748.1C340.2,746.1 342.5,743.2 344.2,740.8C346.0,738.5 348.3,734.6 350.0,732.2C351.7,729.8 354.0,727.2 355.8,725.0C357.5,722.8 359.8,719.7 361.5,717.8C363.3,715.9 365.6,713.5 367.3,712.0C369.0,710.5 371.3,708.9 373.1,707.7C374.8,706.5 377.3,704.8 378.8,704.0C380.3,703.1 382.1,701.9 383.1,701.9C384.2,701.9 385.3,704.0 386.0,704.0C386.8,704.0 387.2,701.7 388.0,701.9C388.9,702.2 390.8,705.9 391.8,705.7C392.8,705.5 393.8,701.7 394.7,700.5C395.5,699.3 396.5,698.4 397.5,697.6C398.6,696.8 400.9,695.4 401.9,695.3C402.9,695.2 403.5,697.4 404.2,697.1C404.8,696.7 405.2,694.2 406.2,693.3C407.1,692.4 409.0,691.9 410.5,691.3C412.0,690.6 414.1,689.8 416.3,689.0C418.4,688.1 422.3,686.5 424.9,685.5C427.5,684.6 431.0,683.2 433.6,682.6C436.2,682.1 439.6,682.1 442.2,682.1C444.8,682.1 448.3,682.4 450.8,682.6C453.4,682.9 456.9,683.5 459.5,683.8C462.1,684.1 465.5,684.8 468.1,684.9C470.7,685.1 474.2,684.8 476.8,684.7C479.4,684.5 483.6,684.1 485.4,683.8C487.2,683.5 488.1,683.1 488.9,682.6C489.7,682.2 490.0,680.8 490.6,680.9C491.2,681.0 491.7,682.7 492.6,683.2C493.6,683.7 495.8,683.9 496.9,684.1C498.1,684.3 497.8,684.4 500.0,684.7C502.2,684.9 508.1,685.5 511.5,685.5C515.0,685.5 519.2,685.0 523.1,684.7C526.9,684.3 534.0,683.4 537.5,683.2C540.9,683.1 543.1,683.7 546.1,683.8C549.1,683.9 554.2,684.0 557.6,683.8C561.1,683.6 565.7,682.9 569.2,682.6C572.6,682.3 577.2,681.9 580.7,681.8C584.1,681.6 589.0,681.6 592.2,681.8C595.4,682.0 599.7,683.2 602.3,683.2C604.9,683.2 607.5,681.9 609.5,681.8C611.4,681.7 613.5,682.7 615.3,682.6C617.0,682.6 619.3,681.2 621.0,681.2C622.7,681.2 625.1,682.6 626.8,682.6C628.5,682.7 630.8,681.7 632.5,681.8C634.3,681.9 636.6,683.0 638.3,683.2C640.0,683.4 642.6,682.8 644.1,683.2C645.6,683.7 647.3,686.0 648.4,686.1C649.5,686.2 650.2,683.6 651.3,683.8C652.4,684.0 654.5,687.4 655.6,687.5C656.7,687.7 657.6,684.4 658.5,684.7C659.3,684.9 660.4,688.8 661.4,689.0C662.3,689.2 663.9,685.8 664.8,686.1C665.8,686.4 666.8,691.1 667.7,691.3C668.6,691.5 669.7,687.4 670.6,687.5C671.4,687.7 672.6,691.1 673.5,692.4C674.3,693.7 675.5,694.8 676.3,696.2C677.2,697.6 678.4,700.5 679.2,701.9C680.1,703.4 681.2,704.6 682.1,705.7C683.0,706.8 684.1,708.5 685.0,709.2C685.8,709.8 687.1,709.9 687.9,709.7C688.6,709.5 689.4,708.9 690.2,707.7C690.9,706.5 692.2,703.9 693.1,701.9C693.9,700.0 695.0,696.9 695.9,694.7C696.9,692.6 698.3,689.3 699.4,687.5C700.5,685.8 701.9,684.0 703.1,683.2C704.3,682.5 706.4,682.4 707.5,682.6C708.5,682.9 709.6,684.8 710.3,684.7C711.1,684.5 712.0,681.5 712.6,681.8C713.3,682.1 713.9,686.5 714.7,686.7C715.4,686.8 716.7,682.8 717.5,682.6C718.4,682.5 719.6,685.7 720.4,685.5C721.3,685.4 722.4,681.9 723.3,681.8C724.2,681.6 725.3,684.8 726.2,684.7C727.1,684.5 728.2,681.0 729.1,680.9C729.9,680.8 731.1,683.9 731.9,683.8C732.8,683.7 734.0,680.5 734.8,680.3C735.7,680.2 736.8,682.9 737.7,682.6C738.6,682.4 739.7,679.0 740.6,678.9C741.5,678.8 742.7,681.6 743.5,681.8C744.2,681.9 744.9,678.2 745.5,679.8C746.1,681.3 746.8,689.0 747.2,691.9C747.7,694.8 748.0,699.5 748.4,699.1C748.8,698.6 749.4,692.0 749.8,689.0C750.2,686.0 750.5,680.3 751.3,678.9C752.0,677.5 754.0,679.3 755.0,679.8C756.0,680.2 757.0,681.7 757.9,681.8C758.7,681.9 759.9,680.1 760.8,680.3C761.6,680.6 762.8,683.0 763.6,683.2C764.5,683.4 765.7,681.6 766.5,681.8C767.4,682.0 768.7,684.4 769.4,684.7C770.1,684.9 770.9,681.9 771.4,683.2C772.0,684.5 772.6,692.7 773.2,693.3C773.7,694.0 774.4,688.7 775.2,687.5C775.9,686.4 777.0,685.5 778.1,685.5C779.1,685.5 781.3,686.7 782.4,687.5C783.5,688.4 784.4,690.9 785.3,691.3C786.1,691.7 787.4,690.6 788.1,690.4C788.8,690.3 789.1,690.2 790.0,690.3C790.9,690.4 793.0,690.3 794.3,691.1C795.6,692.0 797.3,694.2 798.6,696.0C799.9,697.8 801.7,700.4 803.0,703.2C804.3,706.0 806.1,710.9 807.3,714.7C808.5,718.6 809.8,724.4 810.7,729.2C811.7,733.9 812.8,740.8 813.6,746.4C814.4,752.1 815.2,760.6 815.9,766.6C816.6,772.7 817.6,780.3 818.2,786.8C818.9,793.3 819.6,803.3 820.3,809.8C820.9,816.3 821.6,825.0 822.3,830.0C822.9,835.0 823.8,840.2 824.6,843.0C825.4,845.8 826.2,847.1 827.5,848.7C828.8,850.3 831.5,851.9 833.2,853.6C834.9,855.4 837.3,858.2 839.0,860.3C840.7,862.3 843.0,865.4 844.7,867.5C846.5,869.5 848.8,871.9 850.5,873.8C852.2,875.7 854.6,878.1 856.3,880.4C857.9,882.7 860.1,886.0 861.5,889.1C862.8,892.1 864.3,896.5 865.5,900.6C866.7,904.7 868.2,911.9 869.2,916.4C870.2,921.0 871.3,926.7 872.1,930.8C873.0,935.0 874.1,940.7 875.0,943.8C875.9,946.9 877.0,950.0 877.9,951.6C878.7,953.2 879.9,954.3 880.8,954.5C881.6,954.6 882.7,954.1 883.6,952.5C884.6,950.9 886.3,947.1 887.4,943.8C888.5,940.6 889.9,935.4 890.8,930.8C891.8,926.3 892.9,919.6 893.7,913.6C894.6,907.5 895.8,897.4 896.6,890.5C897.4,883.6 898.3,874.4 898.9,867.5C899.6,860.5 900.3,851.3 900.9,844.4C901.5,837.5 902.4,828.3 902.9,821.4C903.5,814.4 904.1,805.2 904.7,798.3C905.2,791.4 906.1,781.3 906.7,775.3C907.3,769.2 908.1,762.7 908.7,758.0C909.4,753.2 910.3,746.5 911.0,743.6C911.7,740.6 912.6,739.2 913.3,738.4C914.0,737.5 914.9,737.2 915.6,737.8C916.4,738.4 917.4,740.9 918.2,742.1C919.0,743.3 920.1,745.3 921.1,745.9C922.1,746.4 923.8,746.2 924.8,745.9C925.9,745.5 927.1,745.1 928.3,743.6C929.5,742.0 931.3,738.3 932.6,735.5C933.9,732.7 935.7,727.9 936.9,724.8C938.2,721.7 940.0,717.6 941.3,714.7C942.6,711.9 944.3,708.7 945.6,706.1C946.9,703.5 948.6,699.7 949.9,697.5C951.2,695.2 953.1,692.4 954.2,691.1C955.4,689.8 956.6,688.8 957.7,688.8C958.8,688.8 960.3,689.6 961.4,691.1C962.6,692.6 964.1,696.4 965.2,698.9C966.3,701.4 967.6,704.9 968.6,707.5C969.7,710.1 971.0,713.9 972.1,716.2C973.2,718.5 974.9,721.5 975.8,722.8C976.8,724.1 977.9,724.8 978.7,724.8C979.6,724.8 980.7,723.9 981.6,722.8C982.5,721.7 983.6,719.9 984.5,717.6C985.4,715.3 986.5,710.8 987.4,707.5C988.2,704.3 989.4,698.9 990.3,696.0C991.1,693.1 992.1,690.1 993.1,688.2C994.1,686.4 995.6,684.5 996.9,683.6C998.2,682.8 1000.2,682.3 1001.8,682.5C1003.4,682.6 1005.8,683.6 1007.5,684.5C1009.3,685.4 1011.6,686.9 1013.3,688.2C1015.0,689.5 1017.3,691.3 1019.1,693.1C1020.8,695.0 1023.1,697.5 1024.8,700.3C1026.6,703.1 1028.9,707.8 1030.6,711.9C1032.3,716.0 1034.6,722.7 1036.4,727.7C1038.1,732.7 1040.4,740.2 1042.1,745.0C1043.8,749.8 1046.4,756.1 1047.9,759.4C1049.4,762.7 1051.1,765.7 1052.2,767.2C1053.3,768.7 1054.0,769.5 1055.1,769.5C1056.2,769.5 1058.1,768.7 1059.4,767.2C1060.7,765.7 1062.4,762.1 1063.7,759.4C1065.0,756.7 1067.0,751.9 1068.1,749.3C1069.1,746.7 1070.2,743.9 1070.9,742.1C1071.7,740.3 1072.9,738.0 1073.2,737.2"/>
<path stroke="#548235" stroke-width="2.5" d="M205.4,1003.2C205.6,1003.2 206.5,1003.1 207.1,1003.0C207.7,1003.0 208.6,1003.1 209.1,1003.1C209.7,1003.2 210.4,1003.5 210.9,1003.6C211.4,1003.7 212.0,1003.8 212.5,1003.9C213.1,1004.0 214.0,1004.0 214.6,1004.1C215.1,1004.2 215.6,1004.4 216.1,1004.4C216.6,1004.5 217.3,1004.3 217.8,1004.5C218.4,1004.7 219.2,1005.5 219.7,1005.6C220.2,1005.8 220.8,1005.3 221.3,1005.4C221.8,1005.5 222.7,1005.9 223.2,1006.1C223.8,1006.3 224.5,1006.8 225.0,1006.8C225.5,1006.9 226.2,1006.6 226.7,1006.6C227.3,1006.5 228.1,1006.4 228.6,1006.5C229.2,1006.6 229.8,1006.9 230.3,1007.0C230.8,1007.2 231.4,1007.6 231.9,1007.5C232.3,1007.5 232.9,1007.0 233.4,1007.0C233.9,1007.0 234.7,1007.5 235.2,1007.5C235.7,1007.5 236.3,1007.2 236.9,1007.1C237.4,1007.0 238.3,1006.8 238.8,1006.7C239.4,1006.7 240.0,1006.7 240.5,1006.7C241.0,1006.7 241.8,1006.6 242.3,1006.7C242.7,1006.8 243.2,1007.1 243.7,1007.3C244.3,1007.5 245.2,1007.8 245.8,1008.0C246.3,1008.2 246.8,1008.5 247.3,1008.6C247.8,1008.8 248.6,1009.0 249.2,1009.0C249.7,1009.0 250.4,1008.8 250.9,1008.8C251.5,1008.8 252.4,1009.1 252.9,1009.2C253.4,1009.2 253.9,1009.1 254.4,1009.1C254.9,1009.0 255.8,1008.9 256.4,1009.0C256.9,1009.1 257.6,1009.8 258.2,1009.9C258.7,1010.1 259.5,1009.9 260.1,1009.9C260.6,1010.0 261.5,1010.1 262.0,1010.3C262.5,1010.5 263.1,1010.9 263.6,1011.3C264.0,1011.6 264.6,1012.4 265.0,1012.7C265.4,1013.0 265.8,1013.3 266.3,1013.6C266.7,1013.9 267.5,1014.4 267.9,1014.7C268.3,1015.1 268.4,1015.8 268.7,1016.2C269.1,1016.6 269.8,1017.1 270.2,1017.4C270.6,1017.7 271.0,1018.1 271.3,1018.4C271.6,1018.8 271.9,1019.5 272.2,1019.9C272.5,1020.4 273.1,1020.9 273.4,1021.3C273.7,1021.6 274.1,1021.9 274.4,1022.3C274.7,1022.8 275.3,1023.7 275.6,1024.1C275.9,1024.4 276.2,1024.7 276.5,1025.0C276.8,1025.3 277.0,1025.8 277.4,1026.3C277.7,1026.7 278.4,1027.5 278.8,1027.8C279.1,1028.1 279.6,1028.0 279.9,1028.3C280.2,1028.6 280.5,1029.3 280.8,1029.7C281.2,1030.2 281.7,1030.8 282.0,1031.1C282.4,1031.5 282.7,1031.9 283.1,1032.2C283.4,1032.4 284.0,1032.6 284.4,1033.1C284.8,1033.5 285.2,1034.5 285.6,1034.9C285.9,1035.3 286.4,1035.3 286.8,1035.7C287.2,1036.0 287.8,1037.1 288.2,1037.5C288.6,1037.9 289.2,1038.1 289.5,1038.4C289.8,1038.7 290.0,1039.1 290.4,1039.5C290.7,1039.9 291.3,1040.7 291.7,1041.1C292.1,1041.6 292.6,1042.0 292.9,1042.3C293.2,1042.6 293.4,1042.7 293.7,1043.0C294.0,1043.4 294.4,1044.4 294.8,1044.7C295.2,1045.0 295.9,1044.9 296.2,1045.2C296.5,1045.4 296.6,1046.0 296.9,1046.4C297.2,1046.8 296.7,1046.2 298.1,1047.9C299.6,1049.6 304.2,1054.8 306.8,1058.0C309.4,1061.1 313.3,1065.8 315.4,1068.9C317.6,1072.0 319.5,1075.6 321.2,1078.7C322.9,1081.8 325.2,1086.5 326.9,1089.7C328.7,1092.8 331.2,1097.2 332.7,1099.7C334.2,1102.3 335.7,1105.1 337.0,1106.9C338.3,1108.8 340.1,1110.9 341.4,1112.1C342.7,1113.3 344.2,1114.4 345.7,1115.0C347.2,1115.6 349.7,1116.1 351.4,1116.2C353.2,1116.3 355.5,1116.0 357.2,1115.6C358.9,1115.2 361.5,1114.1 363.0,1113.3C364.5,1112.5 365.9,1111.0 367.3,1110.4C368.7,1109.8 371.2,1109.3 372.5,1109.3C373.8,1109.3 374.8,1111.0 375.9,1110.4C377.1,1109.8 379.0,1107.1 380.3,1105.5C381.6,1103.9 383.3,1101.5 384.6,1099.7C385.9,1098.0 387.8,1095.2 388.9,1094.0C390.0,1092.8 391.0,1092.1 391.8,1092.0C392.5,1091.8 393.1,1093.8 393.8,1093.1C394.5,1092.4 395.7,1088.7 396.7,1087.4C397.7,1086.0 399.2,1084.6 400.4,1083.9C401.6,1083.2 403.7,1082.5 404.7,1082.5C405.8,1082.4 406.8,1084.0 407.6,1083.3C408.5,1082.7 409.4,1080.0 410.5,1078.1C411.6,1076.3 413.5,1073.3 414.8,1070.9C416.1,1068.6 417.9,1064.9 419.2,1062.3C420.4,1059.7 422.2,1056.0 423.5,1053.6C424.8,1051.3 426.5,1048.0 427.8,1046.4C429.1,1044.8 430.8,1043.7 432.1,1043.0C433.4,1042.2 435.1,1041.8 436.4,1041.5C437.7,1041.3 439.5,1041.0 440.8,1041.3C442.1,1041.5 443.8,1042.4 445.1,1043.0C446.4,1043.5 448.1,1044.9 449.4,1045.0C450.7,1045.1 452.2,1044.4 453.7,1043.6C455.2,1042.7 457.8,1040.8 459.5,1039.2C461.2,1037.7 463.5,1035.2 465.3,1033.5C467.0,1031.7 469.3,1029.4 471.0,1027.7C472.7,1026.0 475.1,1023.7 476.8,1021.9C478.5,1020.2 481.0,1017.4 482.5,1016.2C484.1,1015.0 485.8,1014.3 486.9,1013.9C487.9,1013.4 489.0,1012.8 489.7,1013.3C490.5,1013.8 491.2,1016.0 491.8,1017.1C492.3,1018.1 492.9,1020.6 493.5,1020.5C494.1,1020.4 494.8,1017.1 495.5,1016.2C496.2,1015.2 497.7,1014.5 498.4,1014.2C499.1,1013.9 499.1,1014.9 500.0,1014.2C500.9,1013.4 502.8,1010.3 504.3,1009.0C505.8,1007.7 508.1,1006.4 510.1,1005.5C512.0,1004.7 514.9,1003.7 517.3,1003.2C519.7,1002.7 523.8,1002.4 525.9,1002.4C528.1,1002.4 530.0,1002.7 531.7,1003.2C533.4,1003.7 535.7,1005.0 537.5,1005.5C539.2,1006.0 541.5,1006.7 543.2,1006.7C544.9,1006.7 547.3,1006.1 549.0,1005.5C550.7,1004.9 553.0,1003.4 554.7,1002.6C556.5,1001.9 558.3,1000.9 560.5,1000.3C562.7,999.8 566.6,999.2 569.2,998.9C571.7,998.6 575.2,998.5 577.8,998.3C580.4,998.1 583.8,997.7 586.4,997.5C589.0,997.2 592.5,996.9 595.1,996.9C597.7,996.9 601.1,997.2 603.7,997.5C606.3,997.8 609.8,998.5 612.4,998.9C615.0,999.3 618.4,999.8 621.0,1000.3C623.6,1000.9 627.5,1002.1 629.7,1002.6C631.8,1003.2 633.7,1003.1 635.4,1003.8C637.2,1004.5 639.7,1006.1 641.2,1007.5C642.7,1009.0 644.2,1011.8 645.5,1013.3C646.8,1014.8 648.8,1016.8 649.8,1017.6C650.9,1018.5 651.6,1018.4 652.7,1019.1C653.8,1019.7 655.7,1021.0 657.0,1021.9C658.3,1022.9 660.1,1024.8 661.4,1025.7C662.7,1026.6 664.4,1026.5 665.7,1027.7C667.0,1028.9 668.9,1031.5 670.0,1033.5C671.1,1035.4 671.9,1038.3 672.9,1040.7C673.8,1043.1 675.4,1047.2 676.3,1049.3C677.3,1051.5 678.4,1054.0 679.2,1055.1C680.1,1056.2 681.1,1056.6 682.1,1056.5C683.1,1056.4 684.4,1054.7 685.8,1054.5C687.3,1054.3 689.7,1055.1 691.6,1055.1C693.6,1055.1 697.1,1054.7 698.8,1054.5C700.5,1054.3 702.1,1054.4 703.1,1053.6C704.2,1052.9 705.2,1050.6 706.0,1049.3C706.9,1048.0 708.1,1045.7 708.9,1045.0C709.7,1044.3 710.6,1044.0 711.2,1044.4C711.9,1044.9 712.5,1047.1 713.2,1047.9C714.0,1048.6 715.3,1048.7 716.1,1049.3C716.9,1050.0 717.8,1052.1 718.4,1052.2C719.1,1052.3 719.9,1049.0 720.4,1049.9C720.9,1050.8 721.4,1054.2 721.9,1058.0C722.3,1061.8 723.1,1070.5 723.6,1075.3C724.1,1080.0 724.8,1087.0 725.3,1089.7C725.8,1092.3 726.3,1093.6 726.8,1093.1C727.2,1092.7 727.7,1089.5 728.2,1086.8C728.7,1084.1 729.4,1078.5 729.9,1075.3C730.5,1072.0 731.2,1067.5 731.9,1065.2C732.7,1062.8 734.0,1060.3 734.8,1059.4C735.7,1058.5 736.8,1059.0 737.7,1059.4C738.6,1059.8 739.7,1060.8 740.6,1062.3C741.5,1063.8 742.6,1067.3 743.5,1069.5C744.3,1071.7 745.5,1074.1 746.4,1076.7C747.2,1079.3 748.2,1083.8 749.2,1086.8C750.2,1089.8 751.9,1093.8 753.0,1096.9C754.1,1099.9 755.4,1103.9 756.4,1106.9C757.5,1110.0 758.9,1114.5 759.9,1117.0C760.8,1119.5 762.0,1122.2 762.8,1123.7C763.6,1125.1 764.4,1126.5 765.1,1126.5C765.8,1126.6 766.7,1125.9 767.4,1124.2C768.0,1122.6 768.8,1119.5 769.4,1115.6C770.0,1111.7 770.8,1103.9 771.4,1098.3C772.1,1092.7 773.0,1083.8 773.7,1078.1C774.4,1072.5 775.3,1065.8 776.0,1060.8C776.8,1055.9 778.0,1049.3 778.9,1045.0C779.9,1040.7 781.3,1035.1 782.4,1032.0C783.4,1029.0 784.8,1026.5 785.8,1024.8C786.9,1023.2 788.4,1021.8 789.6,1021.1C790.8,1020.4 792.8,1020.2 793.9,1019.9C795.0,1019.6 796.0,1018.8 796.8,1019.1C797.6,1019.4 798.6,1021.2 799.1,1021.9C799.6,1022.7 799.5,1024.1 800.0,1024.0C800.5,1023.8 801.7,1021.7 802.3,1021.1C803.0,1020.5 803.4,1020.0 804.3,1019.9C805.3,1019.8 807.3,1019.9 808.6,1020.5C809.9,1021.1 811.7,1022.7 813.0,1024.0C814.3,1025.3 815.8,1027.4 817.3,1029.2C818.8,1030.9 821.3,1033.3 823.1,1035.5C824.8,1037.7 827.1,1040.6 828.8,1043.6C830.5,1046.5 832.8,1051.2 834.6,1055.1C836.3,1059.0 838.6,1065.2 840.3,1069.5C842.1,1073.8 844.6,1079.1 846.1,1083.9C847.6,1088.7 849.2,1095.6 850.4,1101.2C851.6,1106.8 853.1,1115.3 854.2,1121.4C855.2,1127.4 856.6,1135.9 857.6,1141.5C858.7,1147.1 860.0,1154.3 861.1,1158.8C862.2,1163.4 863.6,1168.7 864.8,1171.8C866.0,1174.9 867.9,1177.8 869.2,1179.6C870.4,1181.3 872.4,1182.7 873.5,1183.3C874.6,1183.9 875.4,1184.0 876.4,1183.6C877.3,1183.2 879.0,1182.2 880.1,1180.4C881.2,1178.7 882.6,1175.0 883.6,1171.8C884.5,1168.5 885.6,1163.4 886.4,1158.8C887.3,1154.3 888.5,1146.5 889.3,1141.5C890.2,1136.6 891.3,1129.0 892.2,1125.7C893.1,1122.3 894.0,1120.2 895.1,1119.1C896.2,1117.9 898.5,1119.3 899.4,1117.9C900.4,1116.5 900.8,1112.8 901.4,1109.8C902.1,1106.9 902.9,1102.2 903.7,1098.3C904.6,1094.4 906.1,1088.2 907.2,1083.9C908.3,1079.6 909.9,1073.2 910.9,1069.5C911.9,1065.8 912.9,1061.2 913.8,1059.4C914.7,1057.6 916.0,1058.5 916.7,1057.4C917.4,1056.3 917.8,1054.3 918.7,1052.2C919.6,1050.1 921.2,1046.2 922.5,1043.6C923.7,1041.0 925.3,1037.3 926.8,1034.9C928.3,1032.5 930.8,1029.7 932.5,1027.7C934.3,1025.8 936.6,1023.5 938.3,1021.9C940.0,1020.4 942.3,1018.7 944.1,1017.6C945.8,1016.5 948.1,1015.4 949.8,1014.7C951.6,1014.1 953.9,1013.4 955.6,1013.0C957.3,1012.7 959.6,1012.6 961.4,1012.4C963.1,1012.3 965.9,1011.3 967.1,1011.9C968.3,1012.4 968.9,1013.8 969.4,1016.2C969.9,1018.6 970.2,1025.3 970.6,1027.7C970.9,1030.1 971.4,1032.0 971.7,1032.0C972.1,1032.0 972.5,1030.3 972.9,1027.7C973.3,1025.1 973.7,1017.3 974.3,1014.7C975.0,1012.2 975.9,1011.5 977.2,1010.4C978.5,1009.3 981.2,1008.3 983.0,1007.5C984.7,1006.8 987.1,1006.0 988.7,1005.5C990.3,1005.0 992.5,1004.0 993.6,1004.1C994.7,1004.2 995.2,1006.1 995.9,1006.1C996.7,1006.1 997.7,1004.2 998.8,1003.8C999.9,1003.4 1001.8,1003.2 1003.1,1003.2C1004.4,1003.3 1005.9,1003.9 1007.5,1004.1C1009.0,1004.3 1011.5,1004.4 1013.2,1004.7C1014.9,1004.9 1017.3,1005.1 1019.0,1005.5C1020.7,1006.0 1023.4,1006.8 1024.7,1007.5C1026.1,1008.3 1027.3,1009.1 1028.2,1010.4C1029.1,1011.7 1029.8,1014.0 1030.5,1016.2C1031.2,1018.3 1032.2,1022.2 1032.8,1024.8C1033.5,1027.4 1034.2,1031.3 1034.8,1033.5C1035.4,1035.6 1036.3,1037.3 1036.8,1039.2C1037.4,1041.2 1038.1,1042.8 1038.6,1046.4C1039.0,1050.1 1039.4,1058.1 1039.7,1063.7C1040.1,1069.3 1040.5,1077.4 1040.9,1083.9C1041.2,1090.4 1041.7,1100.7 1042.0,1106.9C1042.4,1113.2 1042.8,1122.1 1043.2,1125.7C1043.5,1129.2 1044.0,1131.2 1044.3,1130.6C1044.7,1129.9 1045.1,1126.2 1045.5,1121.4C1045.8,1116.5 1046.3,1105.2 1046.6,1098.3C1047.0,1091.4 1047.4,1081.3 1047.8,1075.3C1048.2,1069.2 1048.7,1062.5 1049.2,1058.0C1049.8,1053.4 1050.5,1048.5 1051.3,1045.0C1052.0,1041.5 1053.1,1037.7 1054.1,1034.9C1055.1,1032.1 1056.7,1028.5 1057.9,1026.3C1059.1,1024.0 1060.9,1021.4 1062.2,1019.9C1063.5,1018.4 1065.4,1017.1 1066.5,1016.2C1067.6,1015.3 1069.2,1014.2 1069.7,1013.9"/>
</g>
<text x="99.0" y="58.3" fill="#7030A0" font-size="36.50">NiCuFe<tspan font-size="22.5" dy="7.5">2</tspan><tspan dy="-7.5">O</tspan><tspan font-size="22.5" dy="7.5">4</tspan></text>
<text x="98.5" y="323.0" fill="#D0109E" font-size="36.50">MCM-48</text>
<text x="99.0" y="658.0" fill="#F3842A" font-size="36.75">NiCuFe<tspan font-size="22.5" dy="7.5">2</tspan><tspan dy="-7.5">O</tspan><tspan font-size="22.5" dy="7.5">4</tspan><tspan dy="-7.5">/MCM-48</tspan></text>
<text x="84.9" y="967.0" fill="#548235" font-size="36.80">NiCuFe<tspan font-size="22.5" dy="7.5">2</tspan><tspan dy="-7.5">O</tspan><tspan font-size="22.5" dy="7.5">4</tspan><tspan dy="-7.5">/MCM-48/GO/PρPD</tspan></text>
<rect x="1095.6" y="41.9" width="62.3" height="61.9" fill="#FF0000"/>
<path d="M1108.5,41.9V103.8M1144.8,41.9V103.8" stroke="#fff" stroke-opacity="0.12" stroke-width="0.7"/>
<text transform="translate(1126.8,90.4) scale(0.94,1)" fill="#fff" font-size="53" text-anchor="middle">A</text>
<rect x="1095.4" y="334.8" width="60.3" height="61.7" fill="#FF0000"/>
<path d="M1107.9,334.8V396.5M1143.0,334.8V396.5" stroke="#fff" stroke-opacity="0.12" stroke-width="0.7"/>
<text transform="translate(1124.9,383.0) scale(0.94,1)" fill="#fff" font-size="53" text-anchor="middle">B</text>
<rect x="1095.3" y="669.2" width="61.6" height="61.4" fill="#FF0000"/>
<path d="M1108.1,669.2V730.6M1144.0,669.2V730.6" stroke="#fff" stroke-opacity="0.12" stroke-width="0.7"/>
<text transform="translate(1126.0,717.5) scale(0.94,1)" fill="#fff" font-size="53" text-anchor="middle">C</text>
<rect x="1096.1" y="1032.9" width="61.9" height="62.1" fill="#FF0000"/>
<path d="M1108.9,1032.9V1095.0M1145.0,1032.9V1095.0" stroke="#fff" stroke-opacity="0.12" stroke-width="0.7"/>
<text transform="translate(1126.3,1081.6) scale(0.94,1)" fill="#fff" font-size="53" text-anchor="middle">D</text>
<path d="M215.8,198.8 L301.7,198.8 A8.0,8.0 0 0 1 309.7,206.8 L309.7,208.2 L400.7,167.3 L309.7,221.8 L309.7,245.2 A8.0,8.0 0 0 1 301.7,253.2 L215.8,253.2 A8.0,8.0 0 0 1 207.8,245.2 L207.8,206.8 A8.0,8.0 0 0 1 215.8,198.8 Z" fill="#fff" stroke="#2F5597" stroke-width="3.9" stroke-linejoin="miter" stroke-miterlimit="8"/>
<text transform="translate(256.7,241.7) scale(0.970,1)" fill="#000" font-size="41.6" text-anchor="middle">3414</text>
<path d="M466.8,193.3 L553.4,193.3 A8.0,8.0 0 0 1 561.4,201.3 L561.4,225.5 L637.1,263.8 L561.4,238.0 L561.4,239.5 A8.0,8.0 0 0 1 553.4,247.5 L466.8,247.5 A8.0,8.0 0 0 1 458.8,239.5 L458.8,201.3 A8.0,8.0 0 0 1 466.8,193.3 Z" fill="#fff" stroke="#2F5597" stroke-width="3.9" stroke-linejoin="miter" stroke-miterlimit="8"/>
<text transform="translate(510.7,234.5) scale(0.970,1)" fill="#000" font-size="41.6" text-anchor="middle">2356</text>
<path d="M891.0,140.2 L977.8,140.2 A8.0,8.0 0 0 1 985.8,148.2 L985.8,149.4 L1052.7,134.5 L985.8,162.2 L985.8,186.8 A8.0,8.0 0 0 1 977.8,194.8 L891.0,194.8 A8.0,8.0 0 0 1 883.0,186.8 L883.0,148.2 A8.0,8.0 0 0 1 891.0,140.2 Z" fill="#fff" stroke="#2F5597" stroke-width="3.9" stroke-linejoin="miter" stroke-miterlimit="8"/>
<text transform="translate(936.5,181.1) scale(0.970,1)" fill="#000" font-size="41.6" text-anchor="middle">528</text>
<path d="M141.5,423.8 L228.0,423.8 A8.0,8.0 0 0 1 236.0,431.8 L236.0,455.0 L285.2,502.8 L236.0,469.0 L236.0,469.4 A8.0,8.0 0 0 1 228.0,477.4 L141.5,477.4 A8.0,8.0 0 0 1 133.5,469.4 L133.5,431.8 A8.0,8.0 0 0 1 141.5,423.8 Z" fill="#fff" stroke="#2F5597" stroke-width="3.9" stroke-linejoin="miter" stroke-miterlimit="8"/>
<text transform="translate(183.7,463.9) scale(0.970,1)" fill="#000" font-size="41.6" text-anchor="middle">3414</text>
<path d="M529.2,376.3 L616.1,376.3 A8.0,8.0 0 0 1 624.1,384.3 L624.1,407.9 L670.1,408.5 L624.1,421.0 L624.1,422.4 A8.0,8.0 0 0 1 616.1,430.4 L529.2,430.4 A8.0,8.0 0 0 1 521.2,422.4 L521.2,384.3 A8.0,8.0 0 0 1 529.2,376.3 Z" fill="#fff" stroke="#2F5597" stroke-width="3.9" stroke-linejoin="miter" stroke-miterlimit="8"/>
<text transform="translate(572.8,420.2) scale(0.970,1)" fill="#000" font-size="41.6" text-anchor="middle">2188</text>
<path d="M642.1,466.8 L695.5,466.8 L746.0,399.2 L719.7,466.8 L728.4,466.8 A8.0,8.0 0 0 1 736.4,474.8 L736.4,513.0 A8.0,8.0 0 0 1 728.4,521.0 L642.1,521.0 A8.0,8.0 0 0 1 634.1,513.0 L634.1,474.8 A8.0,8.0 0 0 1 642.1,466.8 Z" fill="#fff" stroke="#2F5597" stroke-width="3.9" stroke-linejoin="miter" stroke-miterlimit="8"/>
<text transform="translate(684.7,508.0) scale(0.970,1)" fill="#000" font-size="41.6" text-anchor="middle">1920</text>
<path d="M841.0,283.8 L928.4,283.8 A8.0,8.0 0 0 1 936.4,291.8 L936.4,330.1 A8.0,8.0 0 0 1 928.4,338.1 L918.8,338.1 L925.8,399.2 L894.4,338.1 L841.0,338.1 A8.0,8.0 0 0 1 833.0,330.1 L833.0,291.8 A8.0,8.0 0 0 1 841.0,283.8 Z" fill="#fff" stroke="#2F5597" stroke-width="3.9" stroke-linejoin="miter" stroke-miterlimit="8"/>
<text transform="translate(883.6,322.8) scale(0.970,1)" fill="#000" font-size="41.6" text-anchor="middle">1116</text>
<path d="M1036.2,440.6 L1044.2,440.6 L990.8,403.3 L1070.0,440.6 L1123.1,440.6 A8.0,8.0 0 0 1 1131.1,448.6 L1131.1,485.9 A8.0,8.0 0 0 1 1123.1,493.9 L1036.2,493.9 A8.0,8.0 0 0 1 1028.2,485.9 L1028.2,448.6 A8.0,8.0 0 0 1 1036.2,440.6 Z" fill="#fff" stroke="#2F5597" stroke-width="3.9" stroke-linejoin="miter" stroke-miterlimit="8"/>
<text transform="translate(1078.2,483.3) scale(0.970,1)" fill="#000" font-size="41.6" text-anchor="middle">870</text>
<path d="M698.5,556.8 L785.0,556.8 A8.0,8.0 0 0 1 793.0,564.8 L793.0,588.0 L861.9,625.5 L793.0,602.0 L793.0,603.0 A8.0,8.0 0 0 1 785.0,611.0 L698.5,611.0 A8.0,8.0 0 0 1 690.5,603.0 L690.5,564.8 A8.0,8.0 0 0 1 698.5,556.8 Z" fill="#fff" stroke="#2F5597" stroke-width="3.9" stroke-linejoin="miter" stroke-miterlimit="8"/>
<text transform="translate(741.0,599.7) scale(0.970,1)" fill="#000" font-size="41.6" text-anchor="middle">1314</text>
<path d="M1032.0,907.2 L1118.2,907.2 A8.0,8.0 0 0 1 1126.2,915.2 L1126.2,953.8 A8.0,8.0 0 0 1 1118.2,961.8 L1065.8,961.8 L980.7,997.4 L1040.6,961.8 L1032.0,961.8 A8.0,8.0 0 0 1 1024.0,953.8 L1024.0,915.2 A8.0,8.0 0 0 1 1032.0,907.2 Z" fill="#fff" stroke="#2F5597" stroke-width="3.9" stroke-linejoin="miter" stroke-miterlimit="8"/>
<text transform="translate(1074.0,948.6) scale(0.970,1)" fill="#000" font-size="41.6" text-anchor="middle">844</text>
<path d="M208.0,1158.4 L259.3,1158.4 L349.8,1130.6 L287.0,1158.4 L294.2,1158.4 A8.0,8.0 0 0 1 302.2,1166.4 L302.2,1205.0 A8.0,8.0 0 0 1 294.2,1213.0 L208.0,1213.0 A8.0,8.0 0 0 1 200.0,1205.0 L200.0,1166.4 A8.0,8.0 0 0 1 208.0,1158.4 Z" fill="#fff" stroke="#2F5597" stroke-width="3.9" stroke-linejoin="miter" stroke-miterlimit="8"/>
<text transform="translate(249.4,1201.1) scale(0.970,1)" fill="#000" font-size="41.6" text-anchor="middle">3708</text>
<path d="M653.7,1175.2 L740.2,1175.2 A8.0,8.0 0 0 1 748.2,1183.2 L748.2,1184.7 L858.5,1180.5 L748.2,1197.1 L748.2,1221.2 A8.0,8.0 0 0 1 740.2,1229.2 L653.7,1229.2 A8.0,8.0 0 0 1 645.7,1221.2 L645.7,1183.2 A8.0,8.0 0 0 1 653.7,1175.2 Z" fill="#fff" stroke="#2F5597" stroke-width="3.9" stroke-linejoin="miter" stroke-miterlimit="8"/>
<text transform="translate(697.6,1216.6) scale(0.970,1)" fill="#000" font-size="41.6" text-anchor="middle">1314</text>
<path d="M981.7,1155.4 L1068.2,1155.4 A8.0,8.0 0 0 1 1076.2,1163.4 L1076.2,1201.5 A8.0,8.0 0 0 1 1068.2,1209.5 L981.7,1209.5 A8.0,8.0 0 0 1 973.7,1201.5 L973.7,1177.3 L913.5,1140.4 L973.7,1164.1 L973.7,1163.4 A8.0,8.0 0 0 1 981.7,1155.4 Z" fill="#fff" stroke="#2F5597" stroke-width="3.9" stroke-linejoin="miter" stroke-miterlimit="8"/>
<text transform="translate(1023.8,1195.9) scale(0.970,1)" fill="#000" font-size="41.6" text-anchor="middle">1228</text>
<polygon points="300.6,785.6 304.6,801.6 320.6,805.6 304.6,809.6 300.6,825.6 296.6,809.6 280.6,805.6 296.6,801.6" fill="#1DA5E6" filter="url(#sh)"/>
<polygon points="300.6,794.8 302.7,803.7 311.6,805.8 302.7,807.9 300.6,816.8 298.5,807.9 289.6,805.8 298.5,803.7" fill="#F57F26"/>
<polygon points="687.5,719.9 691.5,735.9 707.5,739.9 691.5,743.9 687.5,759.9 683.5,743.9 667.5,739.9 683.5,735.9" fill="#1DA5E6" filter="url(#sh)"/>
<polygon points="687.5,729.1 689.6,738.0 698.5,740.1 689.6,742.2 687.5,751.1 685.4,742.2 676.5,740.1 685.4,738.0" fill="#F57F26"/>
<polygon points="748.6,703.7 752.6,719.7 768.6,723.7 752.6,727.7 748.6,743.7 744.6,727.7 728.6,723.7 744.6,719.7" fill="#1DA5E6" filter="url(#sh)"/>
<polygon points="748.6,712.9 750.7,721.8 759.6,723.9 750.7,726.0 748.6,734.9 746.5,726.0 737.6,723.9 746.5,721.8" fill="#F57F26"/>
<polygon points="881.0,957.0 885.0,973.0 901.0,977.0 885.0,981.0 881.0,997.0 877.0,981.0 861.0,977.0 877.0,973.0" fill="#1DA5E6" filter="url(#sh)"/>
<polygon points="881.0,966.2 883.1,975.1 892.0,977.2 883.1,979.3 881.0,988.2 878.9,979.3 870.0,977.2 878.9,975.1" fill="#F57F26"/>
<polygon points="928.5,750.0 932.5,766.0 948.5,770.0 932.5,774.0 928.5,790.0 924.5,774.0 908.5,770.0 924.5,766.0" fill="#1DA5E6" filter="url(#sh)"/>
<polygon points="928.5,759.2 930.6,768.1 939.5,770.2 930.6,772.3 928.5,781.2 926.4,772.3 917.5,770.2 926.4,768.1" fill="#F57F26"/>
<polygon points="978.3,730.1 982.3,746.1 998.3,750.1 982.3,754.1 978.3,770.1 974.3,754.1 958.3,750.1 974.3,746.1" fill="#1DA5E6" filter="url(#sh)"/>
<polygon points="978.3,739.3 980.4,748.2 989.3,750.3 980.4,752.4 978.3,761.3 976.2,752.4 967.3,750.3 976.2,748.2" fill="#F57F26"/>
<polygon points="1055.6,777.3 1059.6,793.3 1075.6,797.3 1059.6,801.3 1055.6,817.3 1051.6,801.3 1035.6,797.3 1051.6,793.3" fill="#1DA5E6" filter="url(#sh)"/>
<polygon points="1055.6,786.5 1057.7,795.4 1066.6,797.5 1057.7,799.6 1055.6,808.5 1053.5,799.6 1044.6,797.5 1053.5,795.4" fill="#F57F26"/>
<text x="74.2" y="1298.4" fill="#000" font-size="32" text-anchor="middle">5000</text>
<text x="292.5" y="1298.4" fill="#000" font-size="32" text-anchor="middle">4000</text>
<text x="510.7" y="1298.4" fill="#000" font-size="32" text-anchor="middle">3000</text>
<text x="729.0" y="1298.4" fill="#000" font-size="32" text-anchor="middle">2000</text>
<text x="947.2" y="1298.4" fill="#000" font-size="32" text-anchor="middle">1000</text>
<text x="1168.0" y="1298.4" fill="#000" font-size="32" text-anchor="middle">0</text>
<text x="405.4" y="1372" fill="#000" font-size="48.2">Wavenumbers (cm<tspan font-size="29.5" dy="-15.5">-1</tspan><tspan dy="15.5" dx="1" font-size="48.2">)</tspan></text>
<text transform="translate(39.6,768.2) rotate(-90)" fill="#000" font-size="49.6" textLength="388.4" lengthAdjust="spacingAndGlyphs">Transmittance (%)</text>
</svg></body></html>
